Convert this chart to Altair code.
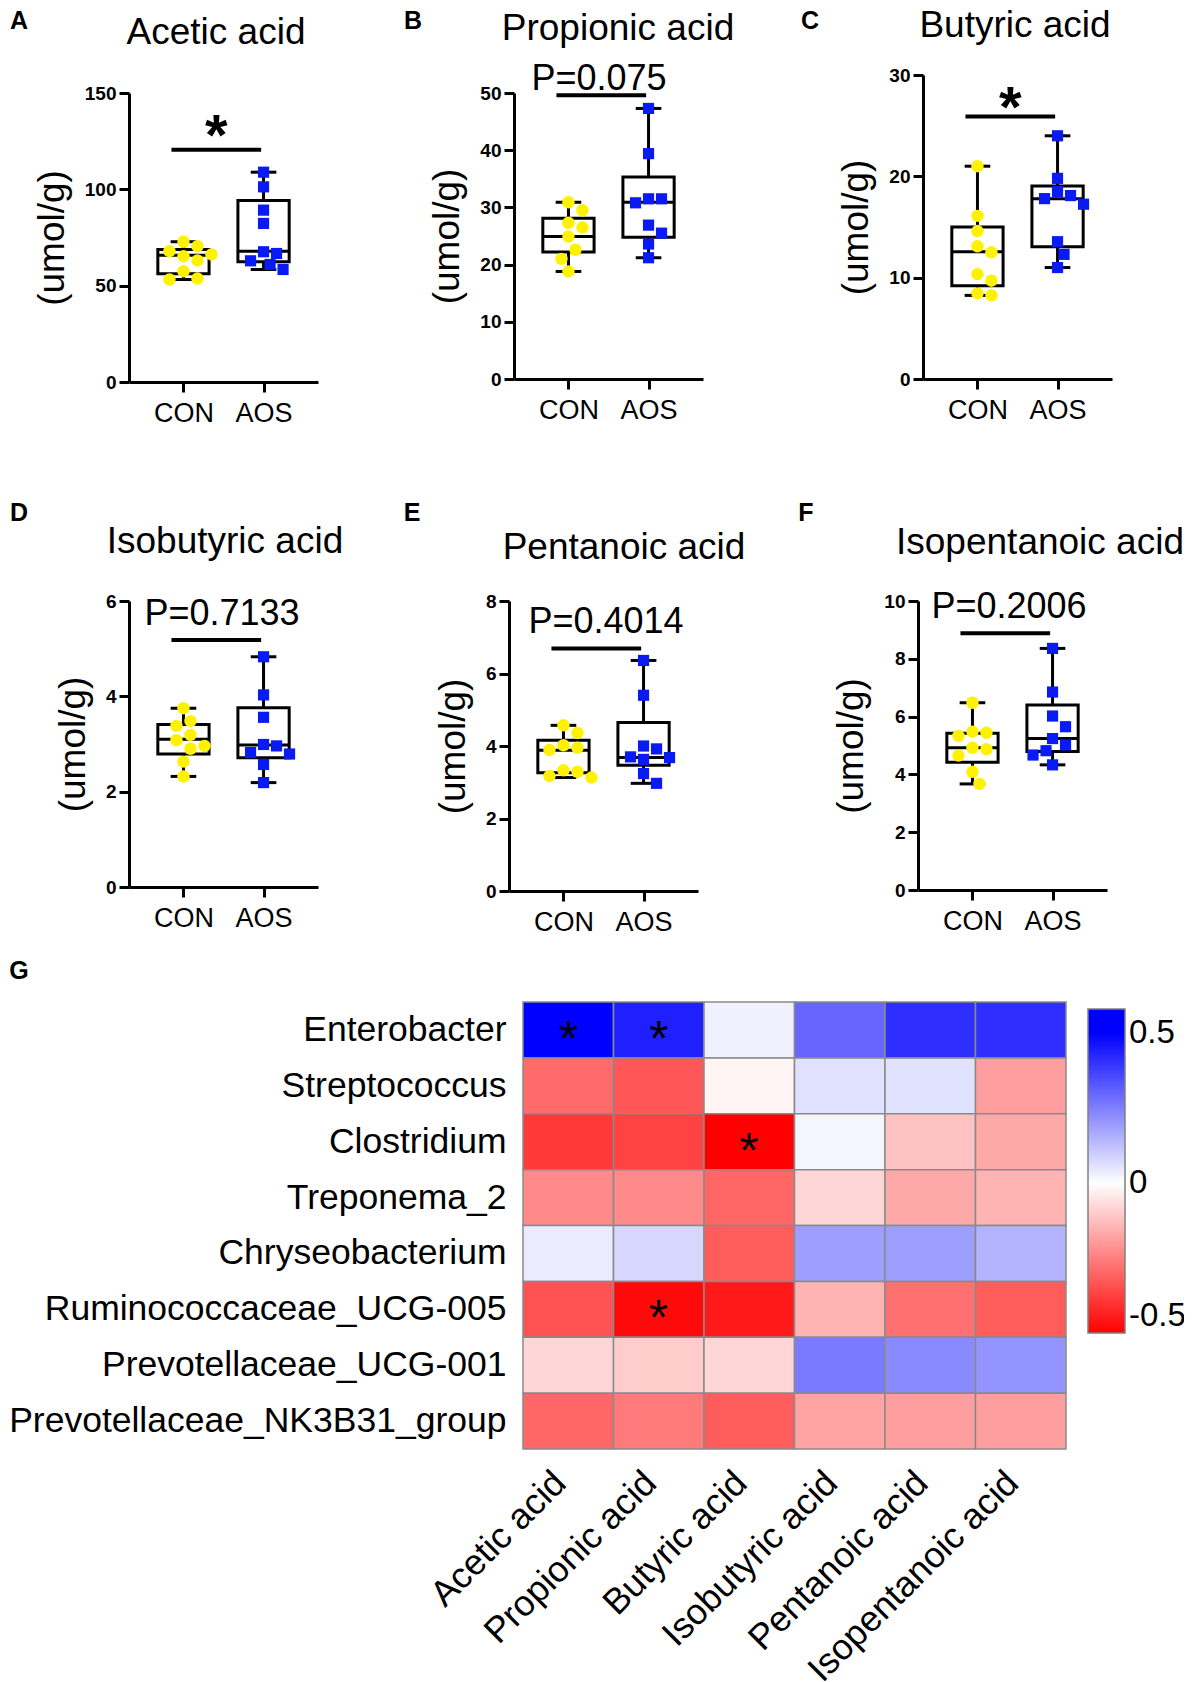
import math
import altair as alt
import pandas as pd

FONT = "Liberation Sans"
YEL = "#FFF200"
BLU = "#0A1AF5"

groups = ["CON", "AOS"]
acids = ["Acetic acid", "Propionic acid", "Butyric acid",
         "Isobutyric acid", "Pentanoic acid", "Isopentanoic acid"]
panel_letters = ["A", "B", "C", "D", "E", "F"]

# ---- box-plot data (umol/g) ----
acetic_con = [72.8, 70.5, 67.9, 66.2, 65.3, 63.1, 57.5, 53.7, 53.2]
acetic_aos = [108.9, 101.3, 89.2, 82.3, 67.6, 66.7, 62.9, 61.0, 58.4]
propionic_con = [30.9, 29.5, 27.3, 26.5, 24.9, 22.6, 21.0, 18.8]
propionic_aos = [47.3, 39.4, 31.5, 31.5, 30.8, 26.9, 25.5, 23.6, 21.2]
butyric_con = [21.0, 16.1, 14.6, 13.1, 12.5, 10.35, 9.7, 8.45, 8.25]
butyric_aos = [24.0, 19.8, 18.5, 18.1, 17.8, 17.25, 13.55, 12.3, 11.0]
isobutyric_con = [3.75, 3.48, 3.38, 3.19, 3.08, 2.96, 2.90, 2.63, 2.32]
isobutyric_aos = [4.83, 4.03, 3.56, 2.99, 2.96, 2.82, 2.79, 2.57, 2.19]
pentanoic_con = [4.57, 4.36, 4.02, 3.95, 3.89, 3.33, 3.29, 3.17, 3.13]
pentanoic_aos = [6.36, 5.40, 4.00, 3.92, 3.70, 3.68, 3.63, 3.24, 2.97]
isopentanoic_con = [6.48, 5.48, 5.44, 5.33, 4.92, 4.87, 4.65, 4.09, 3.67]
isopentanoic_aos = [8.36, 6.85, 6.02, 5.65, 5.24, 5.02, 4.82, 4.67, 4.33]

# box statistics (Q1, median, Q3)
box_con = [(56.2, 65.8, 68.8), (22.2, 24.9, 28.1), (9.2, 12.55, 15.0),
           (2.79, 3.10, 3.41), (3.26, 3.88, 4.16), (4.42, 4.92, 5.42)]
box_aos = [(62.4, 67.9, 94.2), (24.8, 30.9, 35.3), (13.05, 17.8, 19.05),
           (2.71, 2.98, 3.76), (3.47, 3.68, 4.65), (4.79, 5.24, 6.40)]

data_con = [acetic_con, propionic_con, butyric_con, isobutyric_con, pentanoic_con, isopentanoic_con]
data_aos = [acetic_aos, propionic_aos, butyric_aos, isobutyric_aos, pentanoic_aos, isopentanoic_aos]

y_max = [150, 50, 30, 6, 8, 10]
y_step = [50, 10, 10, 2, 2, 2]
sig_bar_y = [120.6, 49.6, 25.9, 5.18, 6.69, 8.88]
sig_labels = ["*", "P=0.075", "*", "P=0.7133", "P=0.4014", "P=0.2006"]
star_y = [133.0, None, 27.7, None, None, None]

# ---- heatmap data ----
genera = ["Enterobacter", "Streptococcus", "Clostridium", "Treponema_2",
          "Chryseobacterium", "Ruminococcaceae_UCG-005",
          "Prevotellaceae_UCG-001", "Prevotellaceae_NK3B31_group"]
corr = [
    [0.50, 0.44, 0.03, 0.30, 0.41, 0.41],
    [-0.29, -0.33, -0.02, 0.06, 0.06, -0.19],
    [-0.39, -0.37, -0.50, 0.02, -0.12, -0.17],
    [-0.23, -0.23, -0.30, -0.08, -0.17, -0.15],
    [0.04, 0.08, -0.32, 0.19, 0.19, 0.15],
    [-0.34, -0.48, -0.45, -0.15, -0.28, -0.32],
    [-0.08, -0.10, -0.08, 0.26, 0.23, 0.21],
    [-0.30, -0.26, -0.32, -0.18, -0.19, -0.19],
]
stars = [
    [1, 1, 0, 0, 0, 0],
    [0, 0, 0, 0, 0, 0],
    [0, 0, 1, 0, 0, 0],
    [0, 0, 0, 0, 0, 0],
    [0, 0, 0, 0, 0, 0],
    [0, 1, 0, 0, 0, 0],
    [0, 0, 0, 0, 0, 0],
    [0, 0, 0, 0, 0, 0],
]

# ---- layout (pixels) ----
W = 189
XDOM = [-0.68, 1.68]
PX_PER_X = W / (XDOM[1] - XDOM[0])
BAR_X = (-0.15, 0.97)
LAYOUT = {
    "A": dict(h=289, title=(87, -49), letter=(-110, -64), p=None),
    "B": dict(h=286, title=(104, -53), letter=(-101, -64), p=(85, -3)),
    "C": dict(h=304, title=(92, -38), letter=(-113, -46), p=None),
    "D": dict(h=286, title=(96, -48), letter=(-110, -80), p=(93, 24)),
    "E": dict(h=290, title=(115, -42), letter=(-97, -80), p=(97, 32)),
    "F": dict(h=289, title=(122, -47), letter=(-112, -80), p=(91, 17)),
}


def swarm(values, ppu, diam):
    """Simple beeswarm: horizontal pixel offsets avoiding overlap."""
    order = sorted(range(len(values)), key=lambda i: -values[i])
    cands = [0.0]
    for k in range(1, 10):
        cands += [k * diam / 2, -k * diam / 2]
    placed, off = [], [0.0] * len(values)
    for i in order:
        yp = values[i] * ppu
        for c in cands:
            if all((c - xo) ** 2 + (yp - yo) ** 2 >= (diam * 0.98) ** 2 for xo, yo in placed):
                off[i] = c
                placed.append((c, yp))
                break
    return off


one = pd.DataFrame({"k": [0]})


def panel(i):
    key = panel_letters[i]
    lay = LAYOUT[key]
    h = lay["h"]
    ymax = y_max[i]
    con, aos = data_con[i], data_aos[i]
    ppu = h / ymax
    off_c = swarm(con, ppu, 14)
    off_a = swarm(aos, ppu, 13)
    pts = pd.DataFrame({
        "g": [groups[0]] * len(con) + [groups[1]] * len(aos),
        "x": [0 + o / PX_PER_X for o in off_c] + [1 + o / PX_PER_X for o in off_a],
        "v": con + aos,
    })
    bx = pd.DataFrame({
        "pos": [0, 1],
        "q1": [box_con[i][0], box_aos[i][0]],
        "med": [box_con[i][1], box_aos[i][1]],
        "q3": [box_con[i][2], box_aos[i][2]],
        "lo": [min(con), min(aos)],
        "hi": [max(con), max(aos)],
    })
    xs = alt.Scale(domain=XDOM, nice=False, zero=False)
    ys = alt.Scale(domain=[0, ymax], nice=False, zero=True)
    xax = alt.Axis(values=[0, 1],
                   labelExpr=f"datum.value == 0 ? '{groups[0]}' : '{groups[1]}'",
                   labelFontSize=27, labelColor="black", labelPadding=8,
                   tickSize=10, tickWidth=3, tickColor="black",
                   domainWidth=3, domainColor="black", grid=False, labelFlush=False)
    yax = alt.Axis(values=list(range(0, ymax + 1, y_step[i])),
                   labelFontSize=19, labelFontWeight="bold", labelColor="black",
                   labelPadding=3, tickSize=10, tickWidth=3, tickColor="black",
                   domainWidth=3, domainColor="black", grid=False, labelFlush=False,
                   titleFontSize=37, titleFontWeight="normal", titleColor="black",
                   titlePadding=13)

    def X(f):
        return alt.X(f, type="quantitative", scale=xs, axis=xax, title=None)

    def Y(f):
        return alt.Y(f, type="quantitative", scale=ys, axis=yax, title="(umol/g)")

    base = alt.Chart(bx).transform_calculate(
        x0="datum.pos - 0.32", x1="datum.pos + 0.32",
        c0="datum.pos - 0.16", c1="datum.pos + 0.16")
    whisk = base.mark_rule(color="black", strokeWidth=3).encode(x=X("pos"), y=Y("lo"), y2="hi")
    box = base.mark_rect(fill="white", stroke="black", strokeWidth=3).encode(
        x=X("x0"), x2="x1", y=Y("q1"), y2="q3")
    med = base.mark_rule(color="black", strokeWidth=3).encode(x=X("x0"), x2="x1", y=Y("med"))
    cap_lo = base.mark_rule(color="black", strokeWidth=3).encode(x=X("c0"), x2="c1", y=Y("lo"))
    cap_hi = base.mark_rule(color="black", strokeWidth=3).encode(x=X("c0"), x2="c1", y=Y("hi"))
    dots_c = alt.Chart(pts).transform_filter(f"datum.g == '{groups[0]}'").mark_circle(
        size=155, color=YEL, opacity=1).encode(x=X("x"), y=Y("v"))
    dots_a = alt.Chart(pts).transform_filter(f"datum.g == '{groups[1]}'").mark_square(
        size=125, color=BLU, opacity=1).encode(x=X("x"), y=Y("v"))
    bar_df = pd.DataFrame({"x0": [BAR_X[0]], "x1": [BAR_X[1]], "y": [sig_bar_y[i]]})
    bar = alt.Chart(bar_df).mark_rule(color="black", strokeWidth=4).encode(
        x=X("x0"), x2="x1", y=Y("y"))
    layers = [whisk, box, med, cap_lo, cap_hi, dots_c, dots_a, bar]
    if sig_labels[i] == "*":
        sdf = pd.DataFrame({"x": [(BAR_X[0] + BAR_X[1]) / 2], "y": [star_y[i]]})
        layers.append(alt.Chart(sdf).mark_text(
            text="*", fontSize=58, fontWeight="bold", color="black",
            baseline="middle", align="center", dy=12).encode(x=X("x"), y=Y("y")))
    else:
        px, py = lay["p"]
        layers.append(alt.Chart(one).mark_text(
            text=sig_labels[i], fontSize=36, color="black", align="center",
            baseline="alphabetic").encode(x=alt.value(px), y=alt.value(py)))
    tx, ty = lay["title"]
    layers.append(alt.Chart(one).mark_text(
        text=acids[i], fontSize=37, color="black", align="center",
        baseline="alphabetic").encode(x=alt.value(tx), y=alt.value(ty)))
    lx, ly = lay["letter"]
    layers.append(alt.Chart(one).mark_text(
        text=key, fontSize=25, fontWeight="bold", color="black", align="center",
        baseline="alphabetic").encode(x=alt.value(lx), y=alt.value(ly)))
    return alt.layer(*layers).properties(width=W, height=h)


def spacer(w, h):
    return alt.Chart(one).mark_point(opacity=0).encode(
        x=alt.value(0), y=alt.value(0)).properties(width=w, height=h)


P = [panel(i) for i in range(6)]

# ---- heatmap ----
rows = []
for gi, g in enumerate(genera):
    for ai, a in enumerate(acids):
        rows.append({"genus": g, "acid": a, "r": corr[gi][ai], "star": stars[gi][ai]})
hdf = pd.DataFrame(rows)

hx = alt.X("acid:N", sort=acids, title=None,
           scale=alt.Scale(paddingInner=0, paddingOuter=0),
           axis=alt.Axis(labelAngle=-45, labelAlign="right", labelBaseline="middle",
                         labelFontSize=36, labelColor="black", labelPadding=28,
                         labelOffset=-8, ticks=False, domain=False, labelLimit=600))
hy = alt.Y("genus:N", sort=genera, title=None,
           scale=alt.Scale(paddingInner=0, paddingOuter=0),
           axis=alt.Axis(labelFontSize=35.5, labelColor="black", labelPadding=17,
                         ticks=False, domain=False, labelLimit=600))
heat = alt.Chart(hdf).mark_rect(stroke="#8a8a8a", strokeWidth=1.5).encode(
    x=hx, y=hy,
    color=alt.Color("r:Q",
                    scale=alt.Scale(domain=[-0.5, 0, 0.5, 0.58],
                                    range=["#FF0000", "#FFFFFF", "#0000FF", "#0000FF"],
                                    interpolate="rgb", clamp=True),
                    legend=alt.Legend(title=None, orient="none", legendX=959, legendY=934,
                                      direction="vertical",
                                      gradientLength=324, gradientThickness=37,
                                      gradientStrokeColor="#808080", gradientStrokeWidth=1.5,
                                      values=[-0.5, 0, 0.5], labelExpr="'' + datum.value",
                                      labelFontSize=33, labelColor="black", labelOffset=4)))
star_marks = alt.Chart(hdf).transform_filter("datum.star == 1").mark_text(
    text="*", fontSize=50, color="black", align="center", baseline="middle", dy=11
).encode(x=hx, y=hy)
g_letter = alt.Chart(one).mark_text(
    text="G", fontSize=25, fontWeight="bold", color="black", align="center",
    baseline="alphabetic").encode(x=alt.value(-504), y=alt.value(-23))
G = alt.layer(heat, star_marks, g_letter).properties(width=543, height=447)

# With flush bounds, nested concat groups take no room: offsets come from spacing.
colA = alt.vconcat(spacer(W, 18), P[0], spacing=0, bounds="flush")
colB = alt.vconcat(spacer(W, 18), P[1], spacing=0, bounds="flush")
row1 = alt.hconcat(alt.hconcat(colA, colB, spacing=385, bounds="flush"), P[2],
                   spacing=794, bounds="flush")
row2 = alt.hconcat(alt.hconcat(P[3], P[4], spacing=191, bounds="flush"), P[5],
                   spacing=789, bounds="flush")
row3 = alt.hconcat(spacer(300, 10), G, spacing=94, bounds="flush")

chart = alt.vconcat(
    alt.vconcat(row1, row2, spacing=526, bounds="flush"),
    row3, spacing=927, bounds="flush"
).properties(
    padding={"left": 0, "top": -1, "right": -2, "bottom": 0}
).configure(font=FONT).configure_view(strokeWidth=0)

chart.save("out.html", embed_options={"renderer": "svg", "actions": False})
